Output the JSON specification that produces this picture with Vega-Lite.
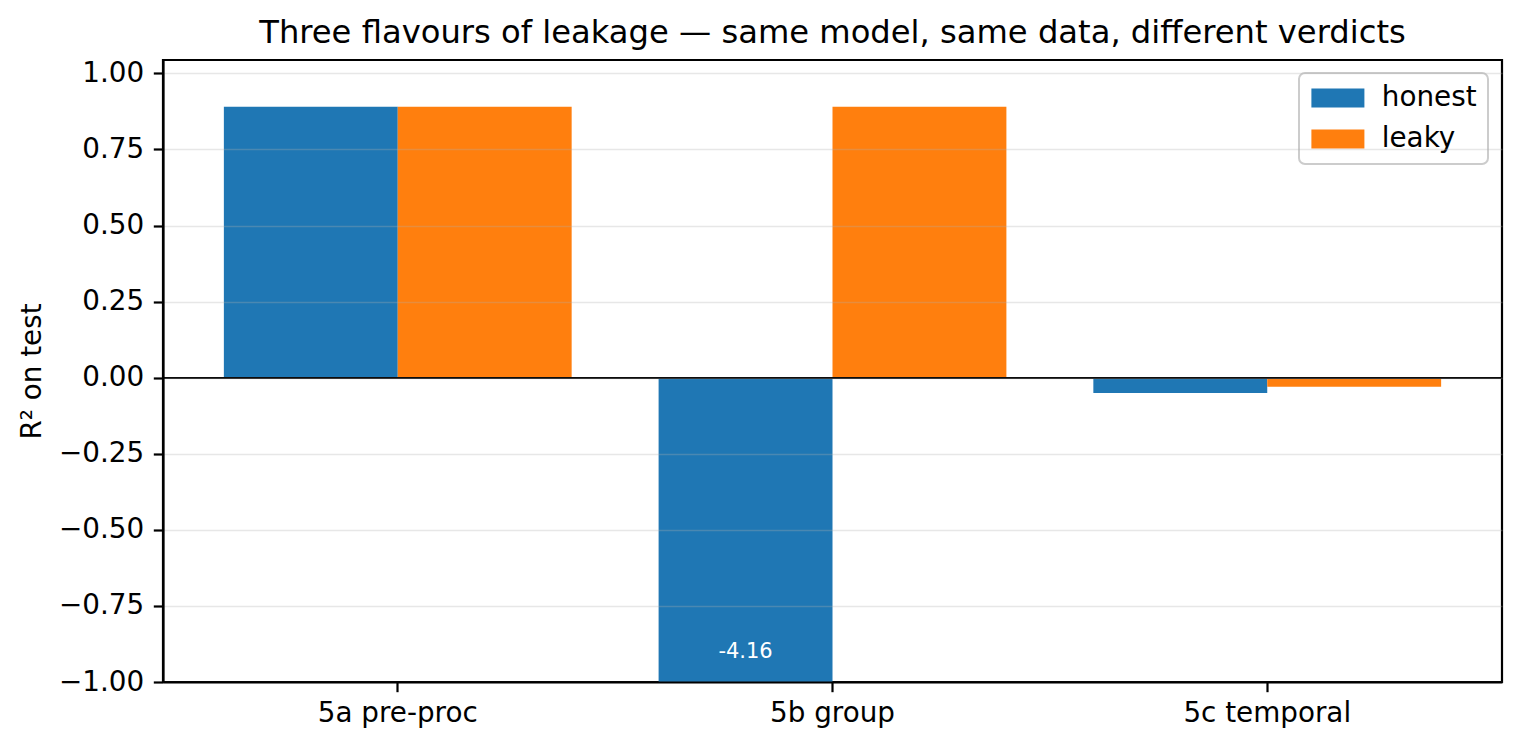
{
  "$schema": "https://vega.github.io/schema/vega-lite/v6.json",
  "autosize": {"type": "none"},
  "padding": {"left": 163, "top": 60, "right": 18, "bottom": 65},
  "width": 1339,
  "height": 622,
  "title": {
    "text": "Three flavours of leakage — same model, same data, different verdicts",
    "font": "DejaVu Sans",
    "fontSize": 32.2,
    "fontWeight": "normal",
    "color": "black",
    "offset": 9
  },
  "data": {
    "values": [
      {"split": "5a pre-proc", "kind": "honest", "score": 0.89},
      {"split": "5a pre-proc", "kind": "leaky", "score": 0.89},
      {"split": "5b group", "kind": "honest", "score": -4.16},
      {"split": "5b group", "kind": "leaky", "score": 0.89},
      {"split": "5c temporal", "kind": "honest", "score": -0.05},
      {"split": "5c temporal", "kind": "leaky", "score": -0.03}
    ]
  },
  "layer": [
    {
      "mark": {"type": "bar", "clip": true},
      "encoding": {
        "x": {
          "field": "split",
          "type": "nominal",
          "sort": null,
          "scale": {"paddingInner": 0.2, "paddingOuter": 0.14},
          "axis": {
            "title": null,
            "labelAngle": 0,
            "labelPadding": 8,
            "zindex": 1
          }
        },
        "xOffset": {
          "field": "kind",
          "type": "nominal",
          "scale": {"paddingInner": 0, "paddingOuter": 0}
        },
        "y": {
          "field": "score",
          "type": "quantitative",
          "scale": {"domain": [-1, 1.044], "nice": false, "zero": false},
          "axis": {
            "title": "R² on test",
            "values": [-1, -0.75, -0.5, -0.25, 0, 0.25, 0.5, 0.75, 1],
            "format": ".2f",
            "grid": true,
            "gridColor": "#b0b0b0",
            "gridOpacity": 0.3,
            "gridWidth": 1.6,
            "titlePadding": 12,
            "zindex": 1
          }
        },
        "color": {
          "field": "kind",
          "type": "nominal",
          "scale": {"domain": ["honest", "leaky"], "range": ["#1f77b4", "#ff7f0e"]},
          "legend": {
            "title": null,
            "orient": "none",
            "legendX": 1136,
            "legendY": 13,
            "symbolType": "M-2.79,-1H2.79V1H-2.79Z",
            "symbolSize": 361,
            "symbolOffset": 14,
            "symbolStrokeWidth": 0,
            "symbolOpacity": 1,
            "labelFont": "DejaVu Sans",
            "labelFontSize": 27.8,
            "labelColor": "black",
            "labelOffset": 30,
            "padding": 11,
            "rowPadding": 12,
            "fillColor": "rgba(255,255,255,0.8)",
            "strokeColor": "#cccccc",
            "cornerRadius": 6
          }
        }
      }
    },
    {
      "mark": {"type": "rule", "color": "black", "strokeWidth": 1.4},
      "encoding": {
        "y": {"datum": 0}
      }
    },
    {
      "transform": [{"filter": "datum.score < -1"}],
      "mark": {
        "type": "text",
        "color": "white",
        "font": "DejaVu Sans",
        "fontSize": 21,
        "baseline": "middle",
        "align": "center"
      },
      "encoding": {
        "x": {"field": "split", "type": "nominal", "sort": null},
        "xOffset": {"field": "kind", "type": "nominal"},
        "y": {"datum": -0.9},
        "text": {"field": "score", "type": "nominal"}
      }
    }
  ],
  "config": {
    "view": {"stroke": "black", "strokeWidth": 2.2},
    "legend": {"strokeWidth": 2},
    "axis": {
      "domainColor": "black",
      "domainWidth": 2.2,
      "tickColor": "black",
      "tickWidth": 2.2,
      "tickSize": 9.7,
      "labelFont": "DejaVu Sans",
      "labelFontSize": 27.8,
      "labelColor": "black",
      "labelPadding": 9.7,
      "titleFont": "DejaVu Sans",
      "titleFontSize": 27.8,
      "titleFontWeight": "normal",
      "titleColor": "black"
    },
    "axisX": {"grid": false}
  }
}
